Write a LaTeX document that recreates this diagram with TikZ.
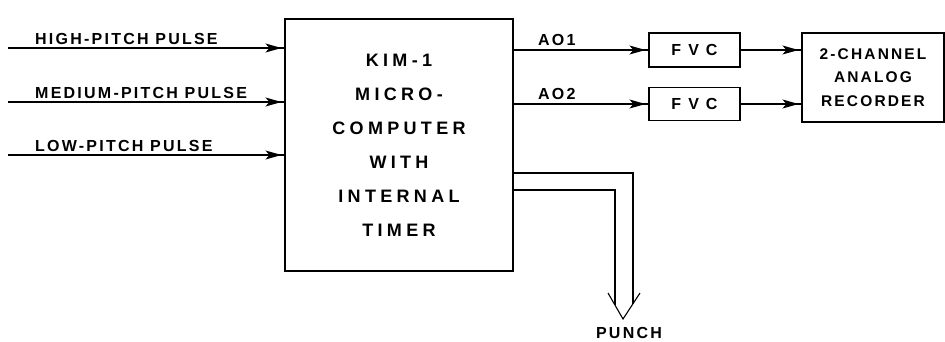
\documentclass[tikz,border=0pt]{standalone}
\usepackage{fontspec}
\setmainfont{Liberation Sans}
\newfontfamily\lettering[LetterSpace=14]{Liberation Sans Bold}
\usetikzlibrary{arrows.meta,positioning,calc,decorations.markings}

\tikzset{
  block/.style={draw, line width=1.1pt, inner sep=0pt},
  lab/.style={font=\lettering\fontsize{16}{18}\selectfont, inner sep=0pt},
  sig/.style={line width=1.1pt, postaction={decorate},
    decoration={markings, mark=at position -3pt with {\arrow{Stealth[length=16pt,width=9pt,inset=4pt]}}}},
  wire/.style={line width=1.1pt},
}

\begin{document}
\begin{tikzpicture}[x=1pt,y=-1pt]
\useasboundingbox (0,0) rectangle (945,341);

% Microcomputer
\node[block, minimum width=228pt, minimum height=252pt, align=center,
  font=\lettering\fontsize{18}{34}\selectfont\addfontfeature{LetterSpace=24}] (kim) at (399,145)
  {KIM-1\\MICRO-\\COMPUTER\\WITH\\INTERNAL\\TIMER};

% Pulse inputs
\coordinate (in1) at (8,48);
\coordinate (in2) at (8,102);
\coordinate (in3) at (8,155);
\node[lab, anchor=base west] (hipulse) at (35,44) {HIGH-PITCH PULSE};
\node[lab, anchor=base west] (medpulse) at (35,98) {MEDIUM-PITCH PULSE};
\node[lab, anchor=base west] (lopulse) at (35,151) {LOW-PITCH PULSE};
\draw[sig] (in1) -- (in1 -| kim.west);
\draw[sig] (in2) -- (in2 -| kim.west);
\draw[sig] (in3) -- (in3 -| kim.west);

% Converters and recorder
\node[block, lab, draw, line width=1.1pt, minimum width=91pt, minimum height=34pt] (fvc1) at (694.5,50) {\addfontfeature{LetterSpace=44}FVC};
\node[block, lab, draw, line width=1.1pt, minimum width=91pt, minimum height=33pt] (fvc2) at (694.5,104) {\addfontfeature{LetterSpace=44}FVC};
\node[block, minimum width=142pt, minimum height=89pt, align=center,
  font=\lettering\fontsize{15.5}{23.5}\selectfont] (rec) at (873,77.5)
  {2-CHANNEL\\ANALOG\\RECORDER};

\node[lab, anchor=base west] (ao1) at (538,45) {AO1};
\node[lab, anchor=base west] (ao2) at (538,99) {AO2};
\draw[sig] (kim.east |- fvc1) -- (fvc1.west);
\draw[sig] (kim.east |- fvc2) -- (fvc2.west);
\draw[sig] (fvc1.east) -- (rec.west |- fvc1.east);
\draw[sig] (fvc2.east) -- (rec.west |- fvc2.east);

% Punch output
\coordinate (tip) at (623,319);
\node[lab, anchor=base] (punch) at (629,338) {PUNCH};
\draw[wire] (kim.east |- 0,173) -- (633,173) -- (633,304);
\draw[wire] (kim.east |- 0,190) -- (615,190) -- (615,305);
\draw[wire] (608,293) -- (tip) -- (640,293);
\end{tikzpicture}
\end{document}
